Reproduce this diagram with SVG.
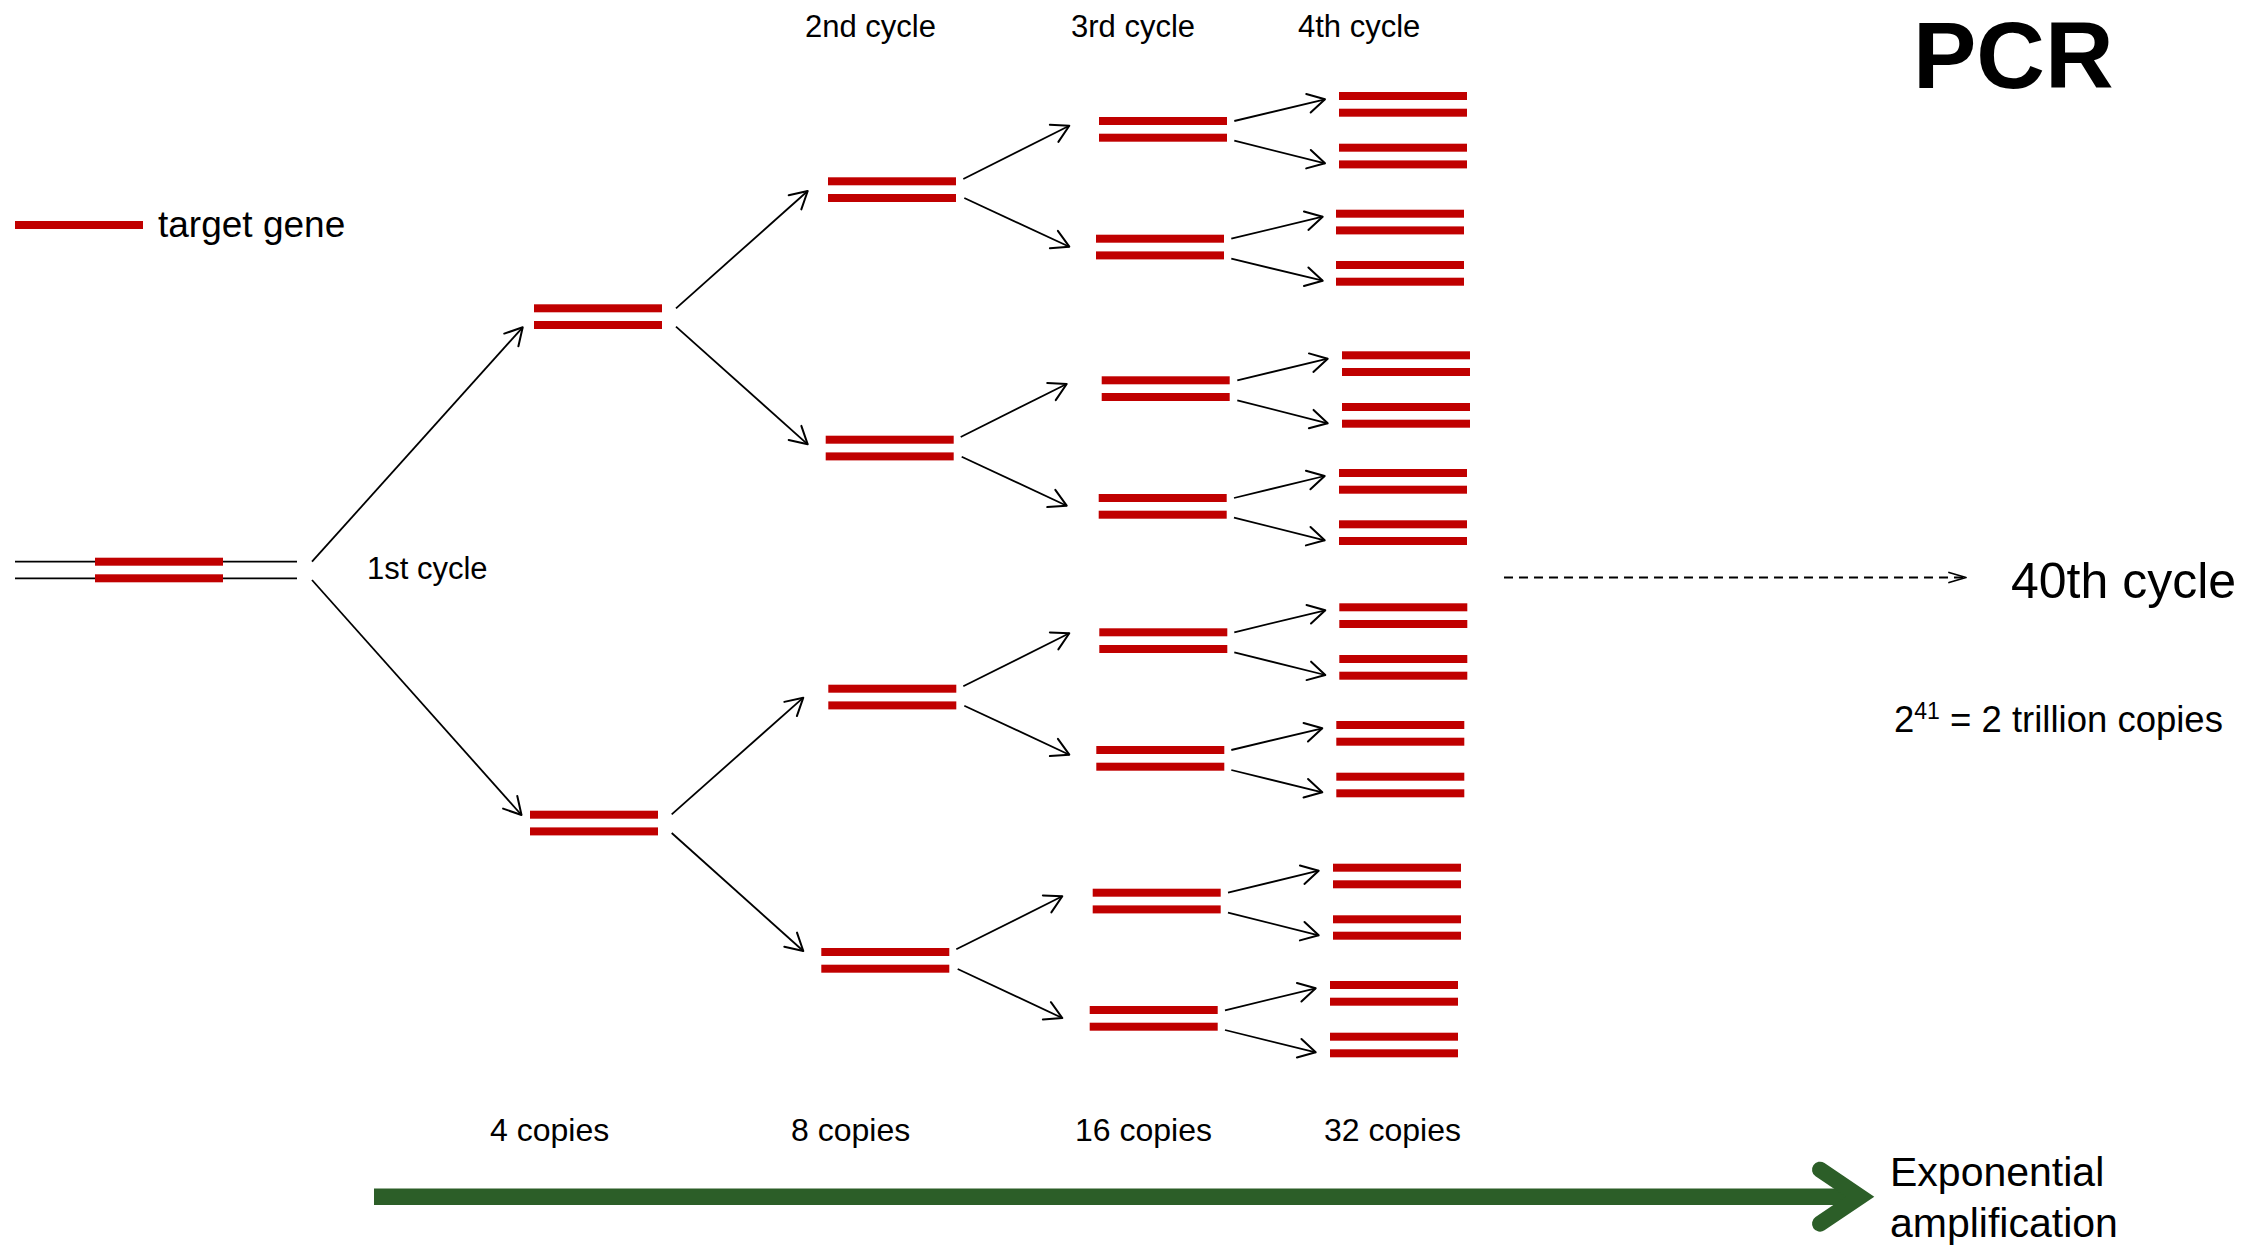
<svg xmlns="http://www.w3.org/2000/svg" width="2267" height="1254" viewBox="0 0 2267 1254">
<style>
.bar{fill:#C00000}
.strand{stroke:#000;stroke-width:1.8;fill:none}
.arr{stroke:#000;stroke-width:1.8;fill:none;marker-end:url(#ah)}
.dash{stroke:#000;stroke-width:1.8;fill:none;stroke-dasharray:9 6;marker-end:url(#ahd)}
text{font-family:"Liberation Sans",Arial,sans-serif;fill:#000}
.lbl{font-size:31px}
.cp{font-size:32px}
</style>
<defs>
<marker id="ah" markerUnits="userSpaceOnUse" markerWidth="40" markerHeight="40" viewBox="-20 -20 40 40" refX="0" refY="0" orient="auto" overflow="visible">
<path d="M-17,-9.5 L0,0 L-17,9.5" fill="none" stroke="#000" stroke-width="2" stroke-linejoin="round" stroke-linecap="round"/>
</marker>
<marker id="ahd" markerUnits="userSpaceOnUse" markerWidth="40" markerHeight="40" viewBox="-20 -20 40 40" refX="0" refY="0" orient="auto" overflow="visible">
<path d="M-17,-5 L0,0 L-17,5" fill="none" stroke="#000" stroke-width="1.8" stroke-linejoin="round" stroke-linecap="round"/>
</marker>
</defs>
<rect width="2267" height="1254" fill="#fff"/>

<g id="legend">
<rect class="bar" x="15" y="221" width="128" height="8"/>
<text x="158" y="237" style="font-size:37px">target gene</text>
</g>

<g id="title"><text x="1913" y="88" style="font-size:95px;font-weight:bold">PCR</text></g>

<g id="labels">
<text class="lbl" x="367" y="579">1st cycle</text>
<text class="lbl" x="805" y="37">2nd cycle</text>
<text class="lbl" x="1071" y="37">3rd cycle</text>
<text class="lbl" x="1298" y="37">4th cycle</text>
<text class="cp" x="490" y="1141">4 copies</text>
<text class="cp" x="791" y="1141">8 copies</text>
<text class="cp" x="1075" y="1141">16 copies</text>
<text class="cp" x="1324" y="1141">32 copies</text>
<text x="2011" y="598" style="font-size:50px">40th cycle</text>
<text x="1894" y="732" style="font-size:36.5px">2<tspan dy="-13" style="font-size:23px">41</tspan><tspan dy="13"> = 2 trillion copies</tspan></text>
<text x="1890" y="1186" style="font-size:41px">Exponential</text>
<text x="1890" y="1237" style="font-size:41px">amplification</text>
</g>

<g id="dna0">
<line class="strand" x1="15" y1="561.7" x2="297" y2="561.7"/>
<line class="strand" x1="15" y1="578.3" x2="297" y2="578.3"/>
<rect class="bar" x="95" y="557.7" width="128" height="8"/>
<rect class="bar" x="95" y="574.3" width="128" height="8"/>
</g>

<g id="p1a"><rect class="bar" x="534" y="304.3" width="128" height="8"/><rect class="bar" x="534" y="321" width="128" height="8"/></g>
<g id="p1b"><rect class="bar" x="530" y="810.7" width="128" height="8"/><rect class="bar" x="530" y="827.4" width="128" height="8"/></g>

<g id="p2a"><rect class="bar" x="828" y="177.3" width="128" height="8"/><rect class="bar" x="828" y="194" width="128" height="8"/></g>
<g id="p2b"><rect class="bar" x="825.7" y="435.7" width="128" height="8"/><rect class="bar" x="825.7" y="452.4" width="128" height="8"/></g>
<g id="p2c"><rect class="bar" x="828.3" y="684.7" width="128" height="8"/><rect class="bar" x="828.3" y="701.4" width="128" height="8"/></g>
<g id="p2d"><rect class="bar" x="821.3" y="948" width="128" height="8"/><rect class="bar" x="821.3" y="964.7" width="128" height="8"/></g>

<g id="p3a"><rect class="bar" x="1099" y="117" width="128" height="8"/><rect class="bar" x="1099" y="133.7" width="128" height="8"/></g>
<g id="p3b"><rect class="bar" x="1096" y="234.7" width="128" height="8"/><rect class="bar" x="1096" y="251.4" width="128" height="8"/></g>
<g id="p3c"><rect class="bar" x="1101.7" y="376.3" width="128" height="8"/><rect class="bar" x="1101.7" y="393" width="128" height="8"/></g>
<g id="p3d"><rect class="bar" x="1098.7" y="494" width="128" height="8"/><rect class="bar" x="1098.7" y="510.7" width="128" height="8"/></g>
<g id="p3e"><rect class="bar" x="1099.3" y="628.3" width="128" height="8"/><rect class="bar" x="1099.3" y="645" width="128" height="8"/></g>
<g id="p3f"><rect class="bar" x="1096.3" y="746" width="128" height="8"/><rect class="bar" x="1096.3" y="762.7" width="128" height="8"/></g>
<g id="p3g"><rect class="bar" x="1092.7" y="888.7" width="128" height="8"/><rect class="bar" x="1092.7" y="905.4" width="128" height="8"/></g>
<g id="p3h"><rect class="bar" x="1089.7" y="1006" width="128" height="8"/><rect class="bar" x="1089.7" y="1022.7" width="128" height="8"/></g>

<g id="p4a"><rect class="bar" x="1339" y="92" width="128" height="8"/><rect class="bar" x="1339" y="108.7" width="128" height="8"/></g>
<g id="p4b"><rect class="bar" x="1339" y="143.7" width="128" height="8"/><rect class="bar" x="1339" y="160.4" width="128" height="8"/></g>
<g id="p4c"><rect class="bar" x="1336" y="209.7" width="128" height="8"/><rect class="bar" x="1336" y="226.4" width="128" height="8"/></g>
<g id="p4d"><rect class="bar" x="1336" y="261" width="128" height="8"/><rect class="bar" x="1336" y="277.7" width="128" height="8"/></g>
<g id="p4e"><rect class="bar" x="1342" y="351.3" width="128" height="8"/><rect class="bar" x="1342" y="368" width="128" height="8"/></g>
<g id="p4f"><rect class="bar" x="1342" y="403" width="128" height="8"/><rect class="bar" x="1342" y="419.7" width="128" height="8"/></g>
<g id="p4g"><rect class="bar" x="1339" y="469" width="128" height="8"/><rect class="bar" x="1339" y="485.7" width="128" height="8"/></g>
<g id="p4h"><rect class="bar" x="1339" y="520.3" width="128" height="8"/><rect class="bar" x="1339" y="537" width="128" height="8"/></g>
<g id="p4i"><rect class="bar" x="1339.3" y="603.3" width="128" height="8"/><rect class="bar" x="1339.3" y="620" width="128" height="8"/></g>
<g id="p4j"><rect class="bar" x="1339.3" y="655" width="128" height="8"/><rect class="bar" x="1339.3" y="671.7" width="128" height="8"/></g>
<g id="p4k"><rect class="bar" x="1336.3" y="721" width="128" height="8"/><rect class="bar" x="1336.3" y="737.7" width="128" height="8"/></g>
<g id="p4l"><rect class="bar" x="1336.3" y="772.7" width="128" height="8"/><rect class="bar" x="1336.3" y="789.3" width="128" height="8"/></g>
<g id="p4m"><rect class="bar" x="1333" y="863.7" width="128" height="8"/><rect class="bar" x="1333" y="880.3" width="128" height="8"/></g>
<g id="p4n"><rect class="bar" x="1333" y="915.3" width="128" height="8"/><rect class="bar" x="1333" y="931.7" width="128" height="8"/></g>
<g id="p4o"><rect class="bar" x="1330" y="981" width="128" height="8"/><rect class="bar" x="1330" y="997.7" width="128" height="8"/></g>
<g id="p4p"><rect class="bar" x="1330" y="1032.7" width="128" height="8"/><rect class="bar" x="1330" y="1049.3" width="128" height="8"/></g>

<g id="connectors">
<line class="arr" x1="312" y1="561.7" x2="522.7" y2="327.3"/>
<line class="arr" x1="312" y1="580" x2="521.5" y2="815"/>
<line class="arr" x1="676" y1="308.3" x2="807.7" y2="191"/>
<line class="arr" x1="676" y1="326.7" x2="807.7" y2="444.3"/>
<line class="arr" x1="671.7" y1="814.3" x2="803.3" y2="697.7"/>
<line class="arr" x1="671.7" y1="833" x2="803.3" y2="951"/>
<line class="arr" x1="963.3" y1="179" x2="1069.3" y2="125.7"/>
<line class="arr" x1="964.3" y1="198" x2="1069.3" y2="246.7"/>
<line class="arr" x1="960.7" y1="437" x2="1066.7" y2="384"/>
<line class="arr" x1="961.7" y1="456.7" x2="1066.7" y2="505.7"/>
<line class="arr" x1="963.3" y1="686.3" x2="1069.3" y2="633.3"/>
<line class="arr" x1="964.3" y1="705.7" x2="1069.3" y2="754.7"/>
<line class="arr" x1="956.3" y1="949.3" x2="1062.3" y2="896.3"/>
<line class="arr" x1="957.7" y1="969" x2="1062.3" y2="1018"/>
<line class="arr" x1="1234.3" y1="121" x2="1325" y2="99.3"/>
<line class="arr" x1="1234.3" y1="140.7" x2="1325" y2="163.3"/>
<line class="arr" x1="1231.3" y1="238.7" x2="1322.7" y2="216.7"/>
<line class="arr" x1="1231.3" y1="258.7" x2="1322.7" y2="280.7"/>
<line class="arr" x1="1237.3" y1="380.3" x2="1327.7" y2="358.7"/>
<line class="arr" x1="1237.3" y1="400.3" x2="1327.7" y2="423.3"/>
<line class="arr" x1="1234" y1="498" x2="1324.7" y2="476"/>
<line class="arr" x1="1234" y1="517.7" x2="1324.7" y2="540.3"/>
<line class="arr" x1="1234.3" y1="632.3" x2="1325.3" y2="610.3"/>
<line class="arr" x1="1234.3" y1="652.3" x2="1325.3" y2="675"/>
<line class="arr" x1="1231.3" y1="750" x2="1322.3" y2="728.3"/>
<line class="arr" x1="1231.3" y1="770" x2="1322.3" y2="792.3"/>
<line class="arr" x1="1228" y1="892.7" x2="1318.7" y2="870.7"/>
<line class="arr" x1="1228" y1="912.7" x2="1318.7" y2="935.3"/>
<line class="arr" x1="1225" y1="1010.3" x2="1315.7" y2="988.3"/>
<line class="arr" x1="1225" y1="1030" x2="1315.7" y2="1052.3"/>
<line class="dash" x1="1504" y1="577.5" x2="1966" y2="577.5"/>
<g id="growth">
<line x1="374" y1="1196.7" x2="1861" y2="1196.7" stroke="#2c5e28" stroke-width="16.5"/>
<path d="M1820,1169.7 L1860,1196.7 L1820,1223.7" fill="none" stroke="#2c5e28" stroke-width="16" stroke-linecap="round" stroke-linejoin="miter"/>
</g>
</g>
</svg>
